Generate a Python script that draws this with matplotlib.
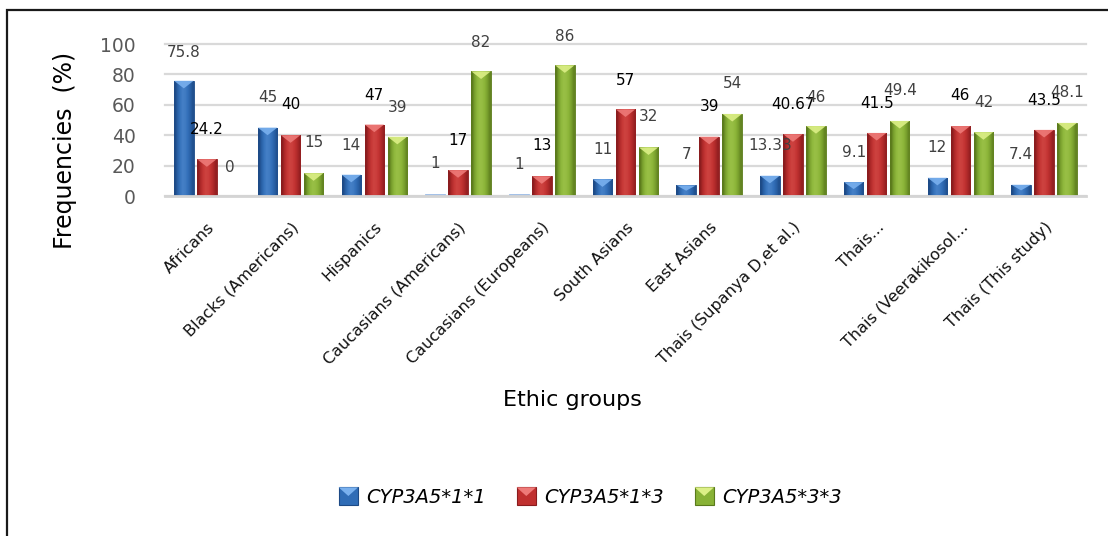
import matplotlib
matplotlib.use("Agg")
import matplotlib.pyplot as plt
import numpy as np
from matplotlib.colors import LinearSegmentedColormap
from matplotlib.patches import Polygon, Rectangle
from matplotlib.legend_handler import HandlerBase

# ---- data -------------------------------------------------------------
groups = ["Africans", "Blacks (Americans)", "Hispanics", "Caucasians (Americans)",
          "Caucasians (Europeans)", "South Asians", "East Asians",
          "Thais (Supanya D,et al.)", "Thais...", "Thais (Veerakikosol...",
          "Thais (This study)"]
genotypes = ["CYP3A5*1*1", "CYP3A5*1*3", "CYP3A5*3*3"]
freq_11 = [75.8, 45, 14, 1, 1, 11, 7, 13.33, 9.1, 12, 7.4]
freq_13 = [24.2, 40, 47, 17, 13, 57, 39, 40.67, 41.5, 46, 43.5]
freq_33 = [0, 15, 39, 82, 86, 32, 54, 46, 49.4, 42, 48.1]
y_ticks = [0, 20, 40, 60, 80, 100]

# ---- layout of the value labels (heights in axis units) ----------------
lab_y_11 = [94.7, 64.5, 33, 21.7, 20.4, 30.9, 27, 32.9, 28.3, 31.6, 27]
lab_y_13 = [44, 60, 66.4, 36.8, 32.9, 76.3, 58.6, 59.9, 61, 65.8, 63]
lab_y_33 = [19, 35, 58.5, 100.7, 105, 52, 73.7, 65, 69.7, 61.8, 67.8]

# ---- styles ---------------------------------------------------------------
styles = [
    dict(dark="#1d4a86", mid="#2f6cb6", light="#5a93d6", tip="#79b0ee", text="#404040"),
    dict(dark="#8a1c1e", mid="#c0302f", light="#db5450", tip="#ee7a78", text="#000000"),
    dict(dark="#5a7a1c", mid="#88b236", light="#a9cc55", tip="#dcef86", text="#404040"),
]

W, H = 1108, 536
fig = plt.figure(figsize=(W / 100, H / 100), dpi=100)
ax = fig.add_axes([165 / W, 1 - 196 / H, (1086 - 165) / W, (196 - 44) / H])

x = np.arange(len(groups))
offsets = [-0.275, 0.0, 0.275]
bw = 0.233
series = [freq_11, freq_13, freq_33]
lab_ys = [lab_y_11, lab_y_13, lab_y_33]

grad = np.array([[0.0, 0.35, 0.6, 0.75, 0.7, 0.55, 0.35, 0.1]])

for vals, off, st, ly in zip(series, offsets, styles, lab_ys):
    cmap = LinearSegmentedColormap.from_list(
        "bev", [st["dark"], st["mid"], st["light"]])
    bars = ax.bar(x + off, vals, width=bw, color=st["mid"],
                  edgecolor=st["dark"], linewidth=0.6, zorder=2)
    for b, v in zip(bars, vals):
        if v <= 0:
            continue
        x0, w, h = b.get_x(), b.get_width(), b.get_height()
        if v < 2:
            b.set_facecolor("#9dbde6")
            b.set_edgecolor("#9dbde6")
            continue
        im = ax.imshow(grad, cmap=cmap, vmin=0, vmax=1, aspect="auto",
                       extent=[x0, x0 + w, 0, h], zorder=2.1,
                       interpolation="bilinear")
        im.set_clip_path(b)
        th = min(5.0, h * 0.5)
        tri = Polygon([[x0, h], [x0 + w, h], [x0 + w / 2, h - th]],
                      closed=True, facecolor=st["tip"], edgecolor="none",
                      alpha=0.9, zorder=2.2)
        ax.add_patch(tri)
    for xi, v, yy in zip(x + off, vals, ly):
        ax.text(xi, yy, f"{v:g}", ha="center", va="center", fontsize=11,
                color=st["text"], zorder=4, clip_on=False)

ax.set_xlim(-0.5, len(groups) - 0.5)
ax.set_ylim(0, 100)
ax.set_yticks(y_ticks)
ax.set_xticks(x)
ax.set_xticklabels(groups, rotation=45, ha="right", va="top",
                   rotation_mode="anchor", fontsize=11.5, color="#111111")
ax.tick_params(axis="x", length=0, pad=17)
ax.tick_params(axis="y", length=0, pad=21, labelsize=13.5, labelcolor="#595959")
ax.yaxis.grid(True, color="#d9d9d9", linewidth=1.6, zorder=0)
for gl in ax.get_ygridlines():
    gl.set_clip_on(False)
ax.set_axisbelow(True)
for s in ("top", "right", "left"):
    ax.spines[s].set_visible(False)
ax.spines["bottom"].set_color("#d4d4d4")
ax.spines["bottom"].set_linewidth(2)

fig.text(65 / W, 1 - 150 / H, "Frequencies  (%)", rotation=90, ha="center",
         va="center", fontsize=17, color="#000000")
fig.text(572 / W, 1 - 400 / H, "Ethic groups", ha="center", va="center",
         fontsize=16, color="#000000")


class BevelHandler(HandlerBase):
    def __init__(self, st):
        super().__init__()
        self.st = st

    def create_artists(self, legend, orig_handle, xdescent, ydescent,
                       width, height, fontsize, trans):
        x0, y0 = -xdescent, -ydescent
        sq = Rectangle((x0, y0), width, height, facecolor=self.st["mid"],
                       edgecolor=self.st["dark"], linewidth=0.8,
                       transform=trans)
        tri = Polygon([[x0, y0 + height], [x0 + width, y0 + height],
                       [x0 + width / 2, y0 + height * 0.5]], closed=True,
                      facecolor=self.st["tip"], edgecolor="none",
                      transform=trans)
        return [sq, tri]


handles = [Rectangle((0, 0), 1, 1) for _ in genotypes]
hmap = {h: BevelHandler(st) for h, st in zip(handles, styles)}
fig.legend(handles, genotypes, handler_map=hmap, loc="center",
           bbox_to_anchor=(590 / W, 1 - 497 / H), ncol=3, frameon=False,
           prop=dict(style="italic", size=14), handlelength=1.0,
           handleheight=1.0, handletextpad=0.4, columnspacing=1.6)

# outer frame running off the right and bottom edges
fig.patches.append(Rectangle((7 / W, -0.2), 1.2, 1.2 - 10 / H, fill=False,
                             edgecolor="#1a1a1a", linewidth=1.6,
                             transform=fig.transFigure))

fig.savefig("out.png", dpi=100)
